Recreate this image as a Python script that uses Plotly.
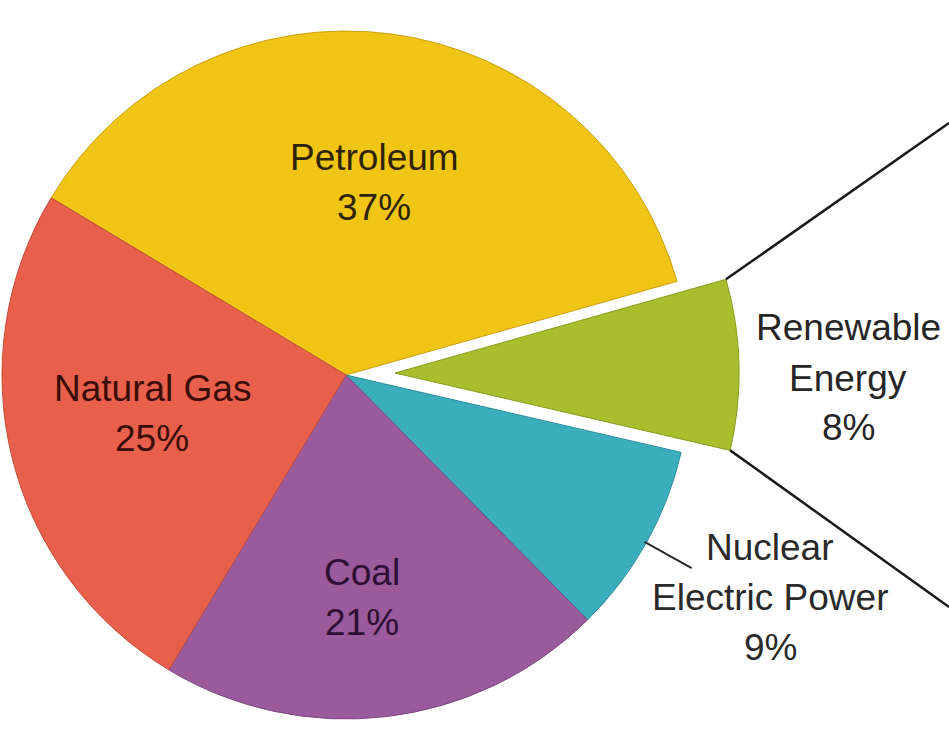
import math
import plotly.graph_objects as go

# ---- data ----
labels = ["Petroleum", "Renewable Energy", "Nuclear Electric Power", "Coal", "Natural Gas"]
label_lines = [["Petroleum"], ["Renewable", "Energy"], ["Nuclear", "Electric Power"], ["Coal"], ["Natural Gas"]]
values = [37, 8, 9, 21, 25]
colors = ["#F1C516", "#A9BE2C", "#3BAEBE", "#9A5A9C", "#E8604B"]
edge_colors = ["#C9A010", "#8A9C22", "#2E8E9B", "#7C467E", "#C24C3B"]
text_colors = ["#2E2400", "#262626", "#2A2A2A", "#2E0F33", "#3A0E08"]

W, H = 949, 734
R = 344
ROT = -59
EXPLODE = 1  # index of exploded slice
C1 = (346, 375)        # main pie centre (px)
C2 = (395, 373)        # exploded slice centre (px)


def dom(c):
    return dict(x=[max(0.0, (c[0] - R) / W), min(1.0, (c[0] + R) / W)],
                y=[max(0.0, 1 - (c[1] + R) / H), min(1.0, 1 - (c[1] - R) / H)])


def px(x, y):
    return x / W, 1 - y / H


main_cols = [("rgba(0,0,0,0)" if i == EXPLODE else c) for i, c in enumerate(colors)]
main_edges = [("rgba(0,0,0,0)" if i == EXPLODE else c) for i, c in enumerate(edge_colors)]
exp_cols = [(c if i == EXPLODE else "rgba(0,0,0,0)") for i, c in enumerate(colors)]
exp_edges = [(c if i == EXPLODE else "rgba(0,0,0,0)") for i, c in enumerate(edge_colors)]

common = dict(labels=labels, values=values, sort=False, direction="clockwise",
              rotation=ROT, textinfo="none", hoverinfo="skip", showlegend=False)

fig = go.Figure()
fig.add_trace(go.Pie(**common, domain=dom(C1),
                     marker=dict(colors=main_cols, line=dict(color=main_edges, width=1))))
fig.add_trace(go.Pie(**common, domain=dom(C2),
                     marker=dict(colors=exp_cols, line=dict(color=exp_edges, width=1))))

# slice angles (clockwise from 12 o'clock)
total = sum(values)
starts, ends = [], []
acc = 0
for v in values:
    starts.append(ROT + acc / total * 360)
    acc += v
    ends.append(ROT + acc / total * 360)


def point(c, ang, r):
    a = math.radians(ang)
    return c[0] + r * math.sin(a), c[1] - r * math.cos(a)


shapes = []
# zoom lines from exploded slice corners
up = point(C2, starts[EXPLODE], R)
lo = point(C2, ends[EXPLODE], R)
for p, q in [(up, (W, 123)), (lo, (W, 607))]:
    x0, y0 = px(*p)
    x1, y1 = px(*q)
    shapes.append(dict(type="line", xref="paper", yref="paper", x0=x0, y0=y0, x1=x1, y1=y1,
                       line=dict(color="#1A1A1A", width=2.5)))
# nuclear leader line (radial)
mid = (starts[2] + ends[2]) / 2
p0 = point(C1, mid, R - 2)
p1 = point(C1, mid, R + 52)
x0, y0 = px(*p0)
x1, y1 = px(*p1)
shapes.append(dict(type="line", xref="paper", yref="paper", x0=x0, y0=y0, x1=x1, y1=y1,
                   line=dict(color="#2A2A2A", width=2)))

# label positions (px, centre of first line) and line spacing
label_pos = [(374, 158), (848, 328), (770, 547), (362, 572), (152, 388)]
LINE = 50
annotations = []
for i, (name_lines, v) in enumerate(zip(label_lines, values)):
    lines = name_lines + [f"{v}%"]
    x, y = label_pos[i]
    for k, t in enumerate(lines):
        ax, ay = px(x, y + k * LINE)
        annotations.append(dict(text=t, x=ax, y=ay, xref="paper", yref="paper",
                                xanchor="center", yanchor="middle", showarrow=False,
                                font=dict(family="Liberation Sans, Arial, sans-serif",
                                          size=37, color=text_colors[i])))

fig.update_layout(width=W, height=H, margin=dict(l=0, r=0, t=0, b=0),
                  paper_bgcolor="white", plot_bgcolor="white",
                  shapes=shapes, annotations=annotations, showlegend=False)

fig.write_html("out.html", config={"displayModeBar": False},
               post_script="document.body.style.margin='0';document.body.style.overflow='hidden';")
